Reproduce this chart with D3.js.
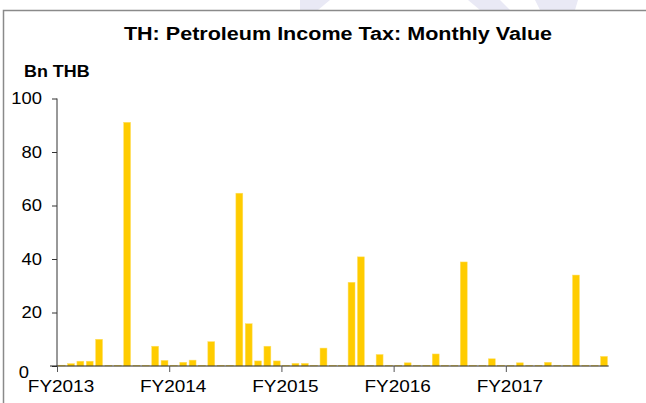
<!DOCTYPE html>
<html>
<head>
<meta charset="utf-8">
<script src="https://cdn.jsdelivr.net/npm/d3@7"></script>
<style>
  html, body { margin: 0; background: #fff; overflow: hidden; }
  svg { display: block; }
  text { font-family: "Liberation Sans", Arial, sans-serif; fill: #000; }
</style>
</head>
<body>
<div id="chart"></div>
<script>
// monthly values, Bn THB, starting at FY2013 (59 months)
const values = [
  0.3, 0.9, 1.8, 1.8, 10.0, 0.2, 0.2, 91.1, 0.2, 0.2, 7.4, 2.1,
  0.2, 1.4, 2.2, 0.2, 9.1, 0.2, 0.2, 64.6, 15.8, 1.9, 7.4, 1.9,
  0.2, 1.0, 1.0, 0.2, 6.7, 0.2, 0.2, 31.3, 40.8, 0.2, 4.3, 0.2,
  0.2, 1.2, 0.2, 0.2, 4.5, 0.2, 0.2, 38.9, 0.2, 0.2, 2.7, 0.2,
  0.2, 1.2, 0.2, 0.2, 1.4, 0.2, 0.2, 34.0, 0.2, 0.2, 3.6
];
const months = values.map((v, i) => i);
const yearLabels = ["FY2013", "FY2014", "FY2015", "FY2016", "FY2017"];
const yearStart = [0, 12, 24, 36, 48];
const yTicks = [0, 20, 40, 60, 80, 100];

const width = 646, height = 403;
const sx = 1.15; // text in the original is a bit wider than Arial

const svg = d3.select("#chart").append("svg")
    .attr("width", width)
    .attr("height", height);

svg.append("rect").attr("width", width).attr("height", height).attr("fill", "#fff");

// faint watermark shapes above the frame
const wm = svg.append("g").attr("fill", "#e9e9f5");
wm.append("path").attr("d", "M300,0 L330,0 L318,10 L300,10 Z");
wm.append("path").attr("d", "M468,0 L500,0 L510,10 L480,10 Z");
wm.append("path").attr("d", "M535,0 L578,0 L575,10 L540,10 Z");

// frame (only top and left edges show)
svg.append("path")
    .attr("d", "M3.5,403 L3.5,10.5 L646,10.5")
    .attr("fill", "none")
    .attr("stroke", "#8a8a8a")
    .attr("stroke-width", 1.5);

const x = d3.scaleBand().domain(months).range([57, 608.7]).paddingInner(0.26).paddingOuter(0.13);
const y = d3.scaleLinear().domain([0, 100]).range([366, 98.5]);

// bars
svg.append("g").selectAll("rect")
    .data(values)
    .join("rect")
    .attr("x", (d, i) => x(i))
    .attr("width", x.bandwidth())
    .attr("y", d => y(d))
    .attr("height", d => y(0) - y(d))
    .attr("fill", "#ffcc00")
    .attr("stroke", "#ffe066")
    .attr("stroke-width", 0.5);

// y axis
const yAxis = svg.append("g").attr("transform", "translate(57,0)")
    .call(d3.axisLeft(y).tickValues(yTicks).tickSize(5).tickFormat(""));
yAxis.select(".domain").attr("stroke", "#333").attr("d", "M0," + y(100) + "V" + y(0));
yAxis.selectAll(".tick line").attr("stroke", "#333");

svg.append("g").selectAll("text")
    .data(yTicks)
    .join("text")
    .attr("text-anchor", "end")
    .attr("font-size", 16)
    .attr("transform", d => d === 0
        ? `translate(29,${y(d) + 6}) scale(${sx},1)`
        : `translate(42,${y(d)}) scale(${sx},1)`)
    .attr("dy", "0.36em")
    .text(d => d);

// x axis
const xAxis = svg.append("g").attr("transform", `translate(0,${y(0)})`)
    .call(d3.axisBottom(x).tickValues(yearStart).tickSize(6).tickFormat(""));
xAxis.select(".domain").attr("stroke", "#222").attr("d", "M50,0H608.7");
xAxis.selectAll(".tick").attr("transform", d => `translate(${x(d) - x.step() * x.paddingOuter() + 0.5},0)`);
xAxis.selectAll(".tick line").attr("stroke", "#555");

svg.append("g").selectAll("text")
    .data(yearStart)
    .join("text")
    .attr("text-anchor", "middle")
    .attr("font-size", 16.5)
    .attr("transform", d => `translate(${x(d) - x.step() * x.paddingOuter() + 4},392) scale(${sx},1)`)
    .text((d, i) => yearLabels[i]);

// titles
svg.append("text")
    .attr("text-anchor", "middle")
    .attr("font-weight", "bold")
    .attr("font-size", 18.5)
    .attr("transform", `translate(338,40) scale(1.165,1)`)
    .text("TH: Petroleum Income Tax: Monthly Value");

svg.append("text")
    .attr("font-weight", "bold")
    .attr("font-size", 16)
    .attr("transform", `translate(24,77) scale(1.12,1)`)
    .text("Bn THB");
</script>
</body>
</html>
